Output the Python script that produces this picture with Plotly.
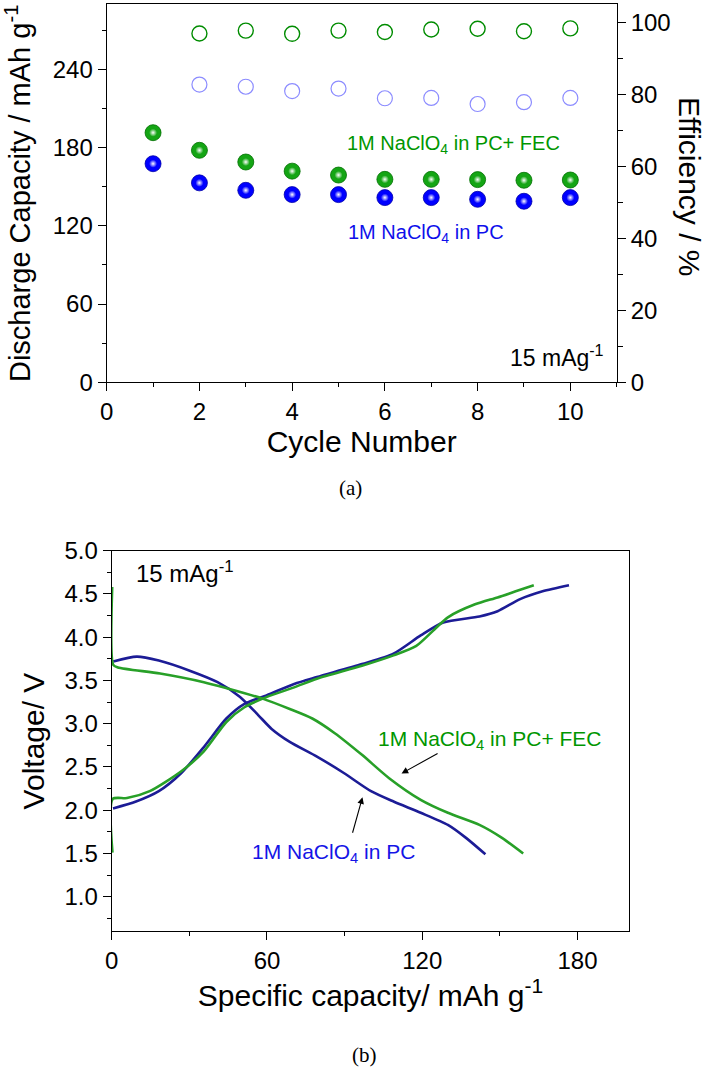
import plotly.graph_objects as go

# ---------------- data: panel (a) ----------------
cycles = [1, 2, 3, 4, 5, 6, 7, 8, 9, 10]
cap_fec = [191.5, 178, 169, 162, 159, 155.7, 155.7, 155.5, 155, 155.2]
cap_pc = [167.7, 153, 147.3, 144, 144, 141.7, 141.7, 140.4, 138.9, 141.7]
eff_cycles = [2, 3, 4, 5, 6, 7, 8, 9, 10]
eff_fec = [96.9, 97.7, 96.8, 97.7, 97.3, 98.0, 98.2, 97.5, 98.3]
eff_pc = [82.7, 82.1, 80.9, 81.6, 78.9, 79.0, 77.3, 77.8, 79.0]

# ---------------- data: panel (b) ----------------
pc_chg_x = [0.5, 9.4, 18.2, 26.9, 35.6, 44.3, 51.3, 60, 70.5, 79.3, 96.7, 108.9, 119.4, 128.1, 142.1, 149.1, 157.8, 166.5, 176.7]
pc_chg_y = [2.02, 2.10, 2.22, 2.43, 2.73, 3.06, 3.23, 3.33, 3.46, 3.54, 3.69, 3.81, 4.02, 4.17, 4.24, 4.30, 4.44, 4.53, 4.60]
fec_chg_x = [0.3, 0.4, 5.9, 14.7, 26.9, 35.6, 44.3, 51.3, 60, 70.5, 79.3, 96.7, 108.9, 117.7, 124.7, 129.9, 140.4, 149.1, 156.1, 163.1]
fec_chg_y = [1.51, 2.13, 2.14, 2.22, 2.45, 2.68, 3.02, 3.19, 3.31, 3.42, 3.52, 3.67, 3.79, 3.90, 4.09, 4.23, 4.38, 4.46, 4.53, 4.60]
pc_dis_x = [0.6, 9.7, 18.2, 30.4, 40.9, 49.6, 56.6, 61.8, 68.8, 79.3, 89.7, 100.2, 108.9, 119.4, 129.9, 136.9, 144.4]
pc_dis_y = [3.72, 3.775, 3.73, 3.61, 3.48, 3.31, 3.10, 2.94, 2.79, 2.62, 2.43, 2.22, 2.10, 1.97, 1.83, 1.68, 1.49]
fec_dis_x = [0.2, 0.6, 2.4, 18.7, 35.6, 44.4, 58.3, 68.8, 77.5, 86.2, 96.7, 107.2, 119.4, 129.9, 142.1, 150.8, 159.0]
fec_dis_y = [4.58, 3.68, 3.65, 3.58, 3.48, 3.41, 3.29, 3.17, 3.06, 2.89, 2.64, 2.37, 2.12, 1.97, 1.83, 1.68, 1.50]

x_ticks_a = [0, 2, 4, 6, 8, 10]
y_ticks_a = [0, 60, 120, 180, 240]
y2_ticks_a = [0, 20, 40, 60, 80, 100]
x_ticks_b = [0, 60, 120, 180]
y_ticks_b = [1.0, 1.5, 2.0, 2.5, 3.0, 3.5, 4.0, 4.5, 5.0]

FONT = "Liberation Sans, Arial, sans-serif"
W, H = 709, 1070
BLUE = "rgb(0,0,255)"
GREEN = "rgb(20,165,20)"
NAVY = "rgb(28,28,150)"
LGREEN = "rgb(40,160,40)"

fig = go.Figure()

# panel (a): filled spheres (base + highlight)
for ys, col, edge in [(cap_fec, GREEN, "rgb(0,110,0)"), (cap_pc, BLUE, "rgb(0,0,170)")]:
    fig.add_trace(go.Scatter(x=cycles, y=ys, mode="markers", xaxis="x", yaxis="y",
                             marker=dict(size=16, color=col, line=dict(width=0.8, color=edge)),
                             showlegend=False, hoverinfo="x+y"))
    fig.add_trace(go.Scatter(x=cycles, y=ys, mode="markers", xaxis="x", yaxis="y",
                             marker=dict(size=8, color=col, line=dict(width=0),
                                         gradient=dict(type="radial", color="white")),
                             showlegend=False, hoverinfo="skip"))

# panel (a): efficiency open circles
fig.add_trace(go.Scatter(x=eff_cycles, y=eff_fec, mode="markers", xaxis="x", yaxis="y2",
                         marker=dict(symbol="circle-open", size=15, color="rgb(0,140,0)", line=dict(width=1.4)),
                         showlegend=False))
fig.add_trace(go.Scatter(x=eff_cycles, y=eff_pc, mode="markers", xaxis="x", yaxis="y2",
                         marker=dict(symbol="circle-open", size=15, color="rgb(140,140,255)", line=dict(width=1.2)),
                         showlegend=False))

# panel (b): curves
for xs, ys, col in [(pc_chg_x, pc_chg_y, NAVY), (pc_dis_x, pc_dis_y, NAVY),
                    (fec_chg_x, fec_chg_y, LGREEN), (fec_dis_x, fec_dis_y, LGREEN)]:
    fig.add_trace(go.Scatter(x=xs, y=ys, mode="lines", xaxis="x3", yaxis="y3",
                             line=dict(color=col, width=2.6, shape="spline", smoothing=0.7),
                             showlegend=False))

axis_common = dict(showline=True, linecolor="black", linewidth=1.3, ticks="outside",
                   ticklen=8, tickwidth=1.3, tickcolor="black", showgrid=False, zeroline=False,
                   automargin=False,
                   tickfont=dict(family=FONT, size=24, color="black"))
minor_common = dict(ticklen=4, tickwidth=1.3, tickcolor="black", ticks="outside", showgrid=False)

dom_xa = [106.7 / W, 616.7 / W]
dom_ya = [1 - 382.3 / H, 1 - 4.3 / H]
dom_xb = [111.7 / W, 629.3 / W]
dom_yb = [1 - 931.3 / H, 1 - 550.7 / H]

fig.update_layout(
    template="none",
    width=W, height=H, margin=dict(l=0, r=0, t=0, b=0, pad=0),
    paper_bgcolor="white", plot_bgcolor="white",
    xaxis=dict(axis_common, domain=dom_xa, anchor="y", range=[0, 11], tickvals=x_ticks_a,
               mirror=True, minor=dict(minor_common, dtick=1),
               title=dict(text="Cycle Number", font=dict(family=FONT, size=30, color="black"), standoff=4)),
    yaxis=dict(axis_common, domain=dom_ya, anchor="x", range=[0, 290], tickvals=y_ticks_a,
               minor=dict(minor_common, dtick=30),
               title=dict(text="Discharge Capacity / mAh g<sup>-1</sup>",
                          font=dict(family=FONT, size=29, color="black"), standoff=14)),
    yaxis2=dict(axis_common, domain=dom_ya, anchor="x", overlaying="y", side="right",
                range=[0, 105], tickvals=y2_ticks_a,
                minor=dict(minor_common, dtick=10, ticklen=5)),
    xaxis3=dict(axis_common, domain=dom_xb, anchor="y3", range=[0, 200], tickvals=x_ticks_b,
                mirror=True, minor=dict(minor_common, dtick=30),
                title=dict(text="Specific capacity/ mAh g<sup>-1</sup>",
                           font=dict(family=FONT, size=30, color="black"), standoff=0)),
    yaxis3=dict(axis_common, domain=dom_yb, anchor="x3", range=[0.6, 5.0], tickvals=y_ticks_b,
                tickformat=".1f", mirror=True,
                minor=dict(minor_common, dtick=0.25),
                title=dict(text="Voltage/ V", font=dict(family=FONT, size=30, color="black"), standoff=10)),
)

ann = []
ann.append(dict(text="Efficiency / %", textangle=90, xref="paper", yref="paper",
                x=689 / W, y=1 - 187 / H, xanchor="center", yanchor="middle", showarrow=False,
                borderpad=0, font=dict(family=FONT, size=30, color="black")))
ann.append(dict(text="1M NaClO<sub>4</sub> in PC+ FEC", xref="x", yref="y", x=7.49, y=182.2,
                showarrow=False, font=dict(family=FONT, size=20, color="rgb(0,150,0)")))
ann.append(dict(text="1M NaClO<sub>4</sub> in PC", xref="x", yref="y", x=6.89, y=113.8,
                showarrow=False, font=dict(family=FONT, size=20, color="rgb(15,15,235)")))
ann.append(dict(text="15 mAg<sup>-1</sup>", xref="x", yref="y", x=10.76, y=20.4, xanchor="right",
                showarrow=False, font=dict(family=FONT, size=23, color="black")))
ann.append(dict(text="15 mAg<sup>-1</sup>", xref="x3", yref="y3", x=8.6, y=4.754, xanchor="left",
                showarrow=False, font=dict(family=FONT, size=24, color="black")))
ann.append(dict(text="1M NaClO<sub>4</sub> in PC+ FEC", xref="x3", yref="y3", x=146.1, y=2.817,
                showarrow=False, font=dict(family=FONT, size=21, color="rgb(0,150,0)")))
ann.append(dict(text="1M NaClO<sub>4</sub> in PC", xref="x3", yref="y3", x=85.6, y=1.51,
                showarrow=False, font=dict(family=FONT, size=21, color="rgb(20,20,230)")))
ann.append(dict(text="", xref="x3", yref="y3", x=112.0, y=2.425, axref="x3", ayref="y3",
                ax=126.5, ay=2.665, showarrow=True, arrowhead=2, arrowsize=1.2, arrowwidth=1.1,
                arrowcolor="black"))
ann.append(dict(text="", xref="x3", yref="y3", x=96.9, y=2.15, axref="x3", ayref="y3",
                ax=92.9, ay=1.722, showarrow=True, arrowhead=2, arrowsize=1.2, arrowwidth=1.1,
                arrowcolor="black"))
ann.append(dict(text="(a)", xref="paper", yref="paper", x=350 / W, y=1 - 488 / H,
                xanchor="center", yanchor="middle", showarrow=False,
                font=dict(family="Liberation Serif, Times New Roman, serif", size=21, color="black")))
ann.append(dict(text="(b)", xref="paper", yref="paper", x=364 / W, y=1 - 1055 / H,
                xanchor="center", yanchor="middle", showarrow=False,
                font=dict(family="Liberation Serif, Times New Roman, serif", size=21, color="black")))
fig.update_layout(annotations=ann)

fig.write_html("out.html", config={"displayModeBar": False},
               post_script="document.body.style.margin='0';")
